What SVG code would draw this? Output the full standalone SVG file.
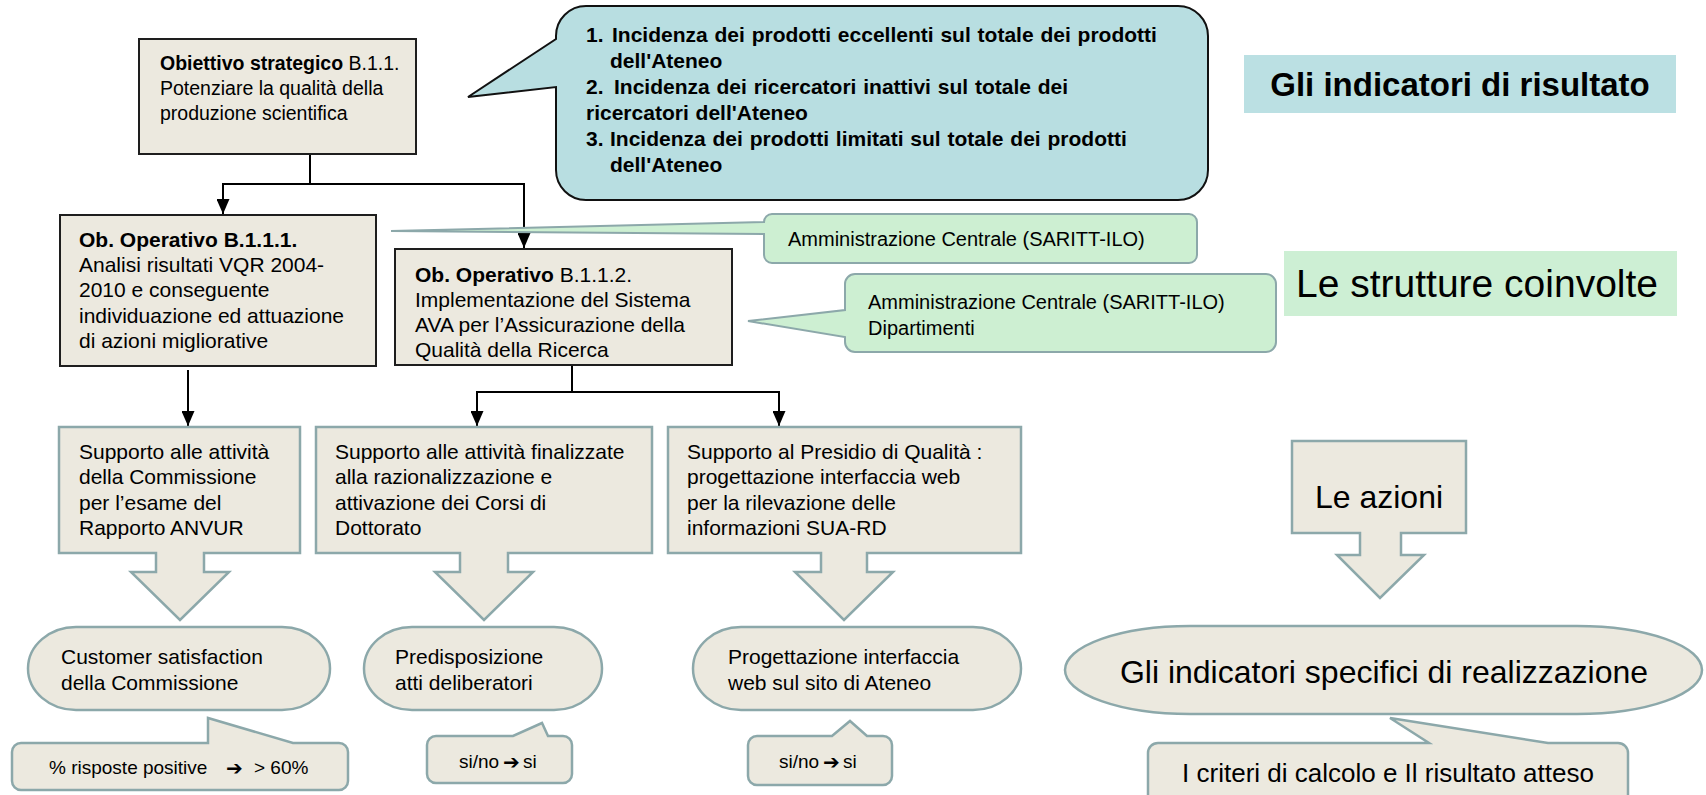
<svg xmlns="http://www.w3.org/2000/svg" width="1706" height="795" viewBox="0 0 1706 795">
<defs>
<style>
.t{font-family:"Liberation Sans",Arial,sans-serif;font-size:21px;fill:#000}
.b{font-weight:bold}
.cb{font-family:"Liberation Sans",Arial,sans-serif;font-size:21px;font-weight:bold;word-spacing:1px;fill:#000}
.s{font-family:"Liberation Sans",Arial,sans-serif;font-size:19px;fill:#000}
.arw{font-family:"DejaVu Sans",sans-serif;font-weight:bold;font-size:20px}
.box{fill:#ECE9DF;stroke:#1E1E1E;stroke-width:2}
.blk{fill:#ECE9DF;stroke:#8CA8AA;stroke-width:2.5}
.grn{fill:#CDEFD2;stroke:#8CA8AA;stroke-width:2}
.con{fill:none;stroke:#000;stroke-width:2}
</style>
<marker id="ah" viewBox="0 0 10 10" refX="10" refY="5" markerUnits="userSpaceOnUse" markerWidth="15" markerHeight="13" preserveAspectRatio="none" orient="auto">
<path d="M0,0 L10,5 L0,10 Z" fill="#000"/>
</marker>
</defs>
<rect width="1706" height="795" fill="#FFFFFF"/>

<g id="connectors">
<path class="con" d="M310 154 V184 M222 184 H525"/>
<path class="con" d="M223 184 V214" marker-end="url(#ah)"/>
<path class="con" d="M524 184 V248" marker-end="url(#ah)"/>
<path class="con" d="M188 370 V426" marker-end="url(#ah)"/>
<path class="con" d="M572 365 V392 M476 392 H780"/>
<path class="con" d="M477 392 V426" marker-end="url(#ah)"/>
<path class="con" d="M779 392 V426" marker-end="url(#ah)"/>
</g>

<g id="obiettivo-strategico">
<rect class="box" x="139" y="39" width="277" height="115"/>
<text class="t" x="160" y="70" style="font-size:19.5px"><tspan class="b">Obiettivo strategico</tspan> B.1.1.</text>
<text class="t" x="160" y="95" style="font-size:19.5px">Potenziare la qualità della</text>
<text class="t" x="160" y="120" style="font-size:19.5px">produzione scientifica</text>
</g>

<g id="indicatori-risultato-callout">
<path d="M586 6 H1178 A30 30 0 0 1 1208 36 V170 A30 30 0 0 1 1178 200 H586 A30 30 0 0 1 556 170 V87 L468 97 L556 39 V36 A30 30 0 0 1 586 6 Z" fill="#B8DEE1" stroke="#111" stroke-width="2"/>
<text class="cb" x="586" y="42">1.</text>
<text class="cb" x="612" y="42">Incidenza dei prodotti eccellenti  sul totale dei prodotti</text>
<text class="cb" x="610" y="68">dell'Ateneo</text>
<text class="cb" x="586" y="94">2.</text>
<text class="cb" x="614" y="94">Incidenza dei ricercatori inattivi sul totale dei</text>
<text class="cb" x="586" y="120">ricercatori  dell'Ateneo</text>
<text class="cb" x="586" y="146">3.</text>
<text class="cb" x="610" y="146">Incidenza dei prodotti limitati  sul totale dei prodotti</text>
<text class="cb" x="610" y="172">dell'Ateneo</text>
</g>

<g id="title-indicatori-risultato">
<rect x="1244" y="55" width="432" height="58" fill="#BBE0E3"/>
<text class="t b" x="1460" y="96" style="font-size:33px" text-anchor="middle">Gli indicatori di risultato</text>
</g>

<g id="ob-operativo-1">
<rect class="box" x="60" y="215" width="316" height="151"/>
<text class="t b" x="79" y="247">Ob. Operativo B.1.1.1.</text>
<text class="t" x="79" y="272">Analisi risultati VQR 2004-</text>
<text class="t" x="79" y="297">2010 e conseguente</text>
<text class="t" x="79" y="323">individuazione ed attuazione</text>
<text class="t" x="79" y="348">di azioni migliorative</text>
</g>

<g id="ob-operativo-2">
<rect class="box" x="395" y="249" width="337" height="116"/>
<text class="t" x="415" y="282"><tspan class="b">Ob. Operativo</tspan> B.1.1.2.</text>
<text class="t" x="415" y="307">Implementazione del Sistema</text>
<text class="t" x="415" y="332">AVA per l’Assicurazione della</text>
<text class="t" x="415" y="357">Qualità della Ricerca</text>
</g>

<g id="strutture-1">
<path class="grn" d="M772 214 H1189 A8 8 0 0 1 1197 222 V255 A8 8 0 0 1 1189 263 H772 A8 8 0 0 1 764 255 V234 L391 231 L764 222 A8 8 0 0 1 772 214 Z"/>
<text class="t" x="788" y="246" style="font-size:20px">Amministrazione Centrale (SARITT-ILO)</text>
</g>

<g id="strutture-2">
<path class="grn" d="M855 274 H1266 A10 10 0 0 1 1276 284 V342 A10 10 0 0 1 1266 352 H855 A10 10 0 0 1 845 342 V337 L748 321 L845 310 V284 A10 10 0 0 1 855 274 Z"/>
<text class="t" x="868" y="309" style="font-size:20px">Amministrazione Centrale (SARITT-ILO)</text>
<text class="t" x="868" y="335" style="font-size:20px">Dipartimenti</text>
</g>

<g id="title-strutture">
<rect x="1284" y="251" width="393" height="65" fill="#CDEFD4"/>
<text class="t" x="1477" y="297" style="font-size:39px" text-anchor="middle">Le strutture coinvolte</text>
</g>

<g id="azione-1">
<path class="blk" d="M59 427 H300 V553 H204 V572 H229 L180 620 L131 572 H156 V553 H59 Z"/>
<text class="t" x="79" y="459">Supporto alle attività</text>
<text class="t" x="79" y="484">della Commissione</text>
<text class="t" x="79" y="510">per l’esame del</text>
<text class="t" x="79" y="535">Rapporto ANVUR</text>
</g>

<g id="azione-2">
<path class="blk" d="M316 427 H652 V553 H508 V572 H533 L484 620 L435 572 H460 V553 H316 Z"/>
<text class="t" x="335" y="459">Supporto alle attività finalizzate</text>
<text class="t" x="335" y="484">alla razionalizzazione e</text>
<text class="t" x="335" y="510">attivazione dei Corsi di</text>
<text class="t" x="335" y="535">Dottorato</text>
</g>

<g id="azione-3">
<path class="blk" d="M668 427 H1021 V553 H867 V572 H893 L844 620 L795 572 H821 V553 H668 Z"/>
<text class="t" x="687" y="459">Supporto al Presidio di Qualità :</text>
<text class="t" x="687" y="484">progettazione interfaccia web</text>
<text class="t" x="687" y="510">per la rilevazione delle</text>
<text class="t" x="687" y="535">informazioni SUA-RD</text>
</g>

<g id="le-azioni">
<path class="blk" d="M1292 441 H1466 V533 H1401 V555 H1424 L1380 598 L1337 555 H1360 V533 H1292 Z"/>
<text class="t" x="1379" y="508" style="font-size:32px" text-anchor="middle">Le azioni</text>
</g>

<g id="indicatore-1">
<rect class="blk" x="28" y="627" width="302" height="83" rx="48" ry="41.5"/>
<text class="t" x="61" y="664">Customer satisfaction</text>
<text class="t" x="61" y="690">della Commissione</text>
</g>

<g id="indicatore-2">
<rect class="blk" x="364" y="627" width="238" height="83" rx="48" ry="41.5"/>
<text class="t" x="395" y="664">Predisposizione</text>
<text class="t" x="395" y="690">atti deliberatori</text>
</g>

<g id="indicatore-3">
<rect class="blk" x="693" y="627" width="328" height="83" rx="48" ry="41.5"/>
<text class="t" x="728" y="664">Progettazione interfaccia</text>
<text class="t" x="728" y="690">web sul sito di Ateneo</text>
</g>

<g id="indicatori-specifici">
<rect class="blk" x="1065" y="626" width="637" height="88" rx="125" ry="44"/>
<text class="t" x="1384" y="683" style="font-size:32px" text-anchor="middle">Gli indicatori specifici di realizzazione</text>
</g>

<g id="criterio-1">
<path class="blk" d="M21 743 H208 V718 L293 743 H339 A9 9 0 0 1 348 752 V781 A9 9 0 0 1 339 790 H21 A9 9 0 0 1 12 781 V752 A9 9 0 0 1 21 743 Z"/>
<text class="s" x="49" y="774">% risposte positive</text>
<text class="arw" x="226" y="775">➔</text>
<text class="s" x="254" y="774">&gt; 60%</text>
</g>

<g id="criterio-2">
<path class="blk" d="M436 736 H513 L542 723 L548 736 H563 A9 9 0 0 1 572 745 V774 A9 9 0 0 1 563 783 H436 A9 9 0 0 1 427 774 V745 A9 9 0 0 1 436 736 Z"/>
<text class="s" x="459" y="768">si/no</text>
<text class="arw" x="503" y="769">➔</text>
<text class="s" x="523" y="768">si</text>
</g>

<g id="criterio-3">
<path class="blk" d="M757 736 H832 L850 721 L867 736 H883 A9 9 0 0 1 892 745 V776 A9 9 0 0 1 883 785 H757 A9 9 0 0 1 748 776 V745 A9 9 0 0 1 757 736 Z"/>
<text class="s" x="779" y="768">si/no</text>
<text class="arw" x="823" y="769">➔</text>
<text class="s" x="843" y="768">si</text>
</g>

<g id="criteri-calcolo">
<path class="blk" d="M1158 743 H1429 L1390 718 L1548 743 H1618 A10 10 0 0 1 1628 753 V805 H1148 V753 A10 10 0 0 1 1158 743 Z"/>
<text class="t" x="1388" y="782" style="font-size:26px" text-anchor="middle">I criteri di calcolo e Il risultato atteso</text>
</g>
</svg>
